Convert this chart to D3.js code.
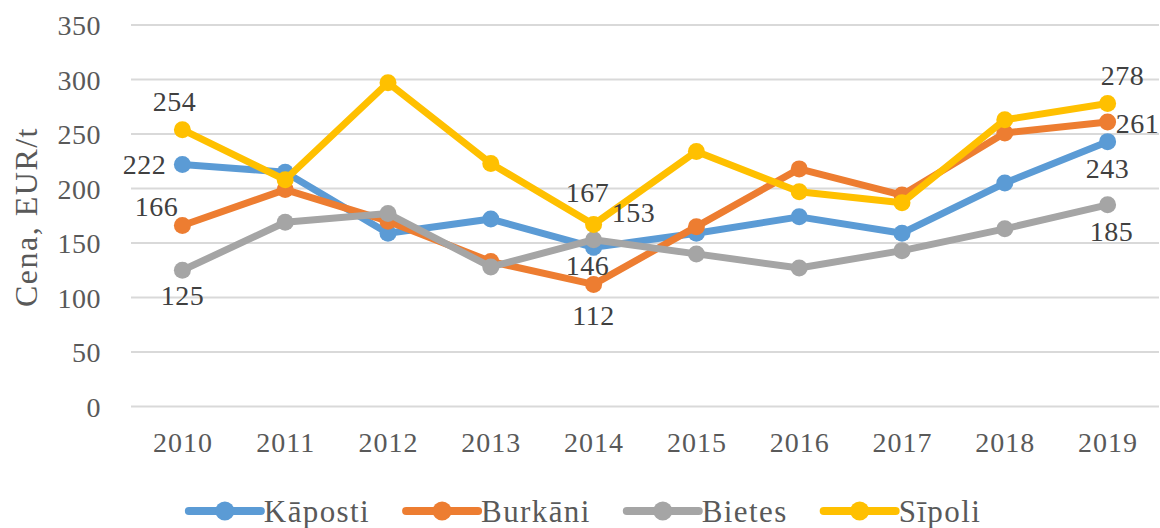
<!DOCTYPE html>
<html><head><meta charset="utf-8">
<script src="https://cdn.jsdelivr.net/npm/d3@7"></script>
<style>
html,body{margin:0;padding:0;background:#fff;}
svg{display:block;}
svg text{font-family:"Times New Roman","Liberation Serif",Tinos,"DejaVu Serif",serif !important;fill:#595959;}
</style></head>
<body>
<svg id="chart" width="1160" height="528"></svg>
<script>
const years = ["2010","2011","2012","2013","2014","2015","2016","2017","2018","2019"];
const seriesNames = ["Kāposti","Burkāni","Bietes","Sīpoli"];
const kaposti = [222,215,159,172,146,159,174,159,205,243];
const burkani = [166,199,170,133,112,165,218,194,251,261];
const bietes  = [125,169,177,128,153,140,127,143,163,185];
const sipoli  = [254,208,297,223,167,234,197,187,263,278];
const yTicks = [0,50,100,150,200,250,300,350];
const axisTitle = "Cena, EUR/t";
// which points carry a value label, per series (index into years)
const labelledIdx = [[0,4,9],[0,4,9],[0,4,9],[0,4,9]];

const colors = ["#5B9BD5","#ED7D31","#A5A5A5","#FFC000"];
// label offsets (layout) relative to the point
const labelOffsets = [
  [[-38,0],[-6,18],[0,27]],
  [[-26,-19],[0,31],[30,1]],
  [[0,25],[40,-27],[4,27]],
  [[-8,-28],[-6,-32],[15,-28]]
];

const seriesVals = [kaposti,burkani,bietes,sipoli];
const svg = d3.select("#chart");
const pLeft = 131, pRight = 1159, pTop = 25, pBottom = 406.5;

const x = d3.scalePoint().domain(years).range([pLeft,pRight]).padding(0.5);
const y = d3.scaleLinear().domain([0,350]).range([pBottom,pTop]);

// gridlines
svg.append("g").selectAll("line").data(yTicks).join("line")
  .attr("x1",pLeft).attr("x2",pRight)
  .attr("y1",d=>y(d)).attr("y2",d=>y(d))
  .attr("stroke","#D9D9D9").attr("stroke-width",2);

// y tick labels
const yAxis = d3.axisLeft(y).tickValues(yTicks).tickSize(0).tickPadding(0);
const gy = svg.append("g").attr("transform","translate(101,0)").call(yAxis);
gy.select(".domain").remove();
gy.attr("font-family",null).attr("font-size",null);
gy.selectAll("text").attr("font-size",28).attr("letter-spacing","0.5px")
  .attr("dy",null).attr("dominant-baseline","central").attr("x",0);

// x tick labels
const xAxis = d3.axisBottom(x).tickSize(0).tickPadding(0);
const gx = svg.append("g").attr("transform","translate(0,452)").call(xAxis);
gx.select(".domain").remove();
gx.attr("font-family",null).attr("font-size",null);
gx.selectAll("text").attr("font-size",28).attr("letter-spacing","1px")
  .attr("dy",null).attr("y",0);

// axis title
svg.append("text").attr("transform","translate(37,217) rotate(-90)")
  .attr("text-anchor","middle").attr("font-size",32).attr("letter-spacing","1.5px")
  .text(axisTitle);

// lines
const line = d3.line().x((d,i)=>x(years[i])).y(d=>y(d));
seriesVals.forEach((vals,s)=>{
  const g = svg.append("g");
  g.append("path").attr("d",line(vals)).attr("fill","none")
    .attr("stroke",colors[s]).attr("stroke-width",7).attr("stroke-linejoin","round");
  g.selectAll("circle").data(vals).join("circle")
    .attr("cx",(d,i)=>x(years[i])).attr("cy",d=>y(d)).attr("r",8.5)
    .attr("fill",colors[s]);
});

// data labels
seriesVals.forEach((vals,s)=>{
  labelledIdx[s].forEach((idx,k)=>{
    const off = labelOffsets[s][k];
    svg.append("text")
      .attr("x",x(years[idx])+off[0]).attr("y",y(vals[idx])+off[1])
      .attr("text-anchor","middle").attr("dominant-baseline","central")
      .attr("font-size",28).attr("letter-spacing","0.5px").style("fill","#404040")
      .text(vals[idx]);
  });
});

// legend
const lg = svg.append("g");
const legY = 511, lineLen = 72, gapText = 3, gapItem = 36;
let cx = 0;
seriesNames.forEach((name,s)=>{
  const it = lg.append("g").attr("transform",`translate(${cx},0)`);
  it.append("line").attr("x1",0).attr("x2",lineLen).attr("y1",legY).attr("y2",legY)
    .attr("stroke",colors[s]).attr("stroke-width",8).attr("stroke-linecap","round");
  it.append("circle").attr("cx",lineLen/2).attr("cy",legY).attr("r",9.5).attr("fill",colors[s]);
  const t = it.append("text").attr("x",lineLen+gapText).attr("y",legY)
    .attr("dominant-baseline","central").attr("font-size",31).attr("letter-spacing","1.4px")
    .text(name);
  const w = t.node().getComputedTextLength();
  cx += lineLen + gapText + w + gapItem;
});
const total = cx - gapItem;
lg.attr("transform",`translate(${585 - total/2},0)`);
</script>
</body></html>
